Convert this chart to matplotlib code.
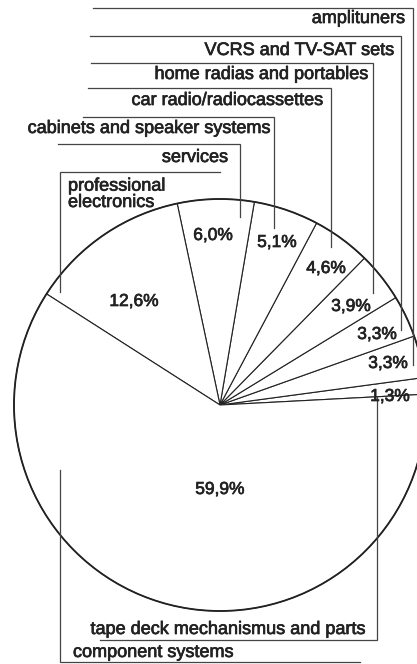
import matplotlib
matplotlib.use("Agg")
import matplotlib.pyplot as plt
import matplotlib.patheffects as pe
from matplotlib.patches import Circle

# shares in percent, counterclockwise from the right
categories = ["tape deck mechanismus and parts", "amplituners", "VCRS and TV-SAT sets",
              "home radias and portables", "car radio/radiocassettes",
              "cabinets and speaker systems", "services", "professional\nelectronics",
              "component systems"]
shares = [1.3, 3.3, 3.3, 3.9, 4.6, 5.1, 6.0, 12.6, 59.9]

# layout in pixel coords (y down)
cx, cy, rad = 220, 405, 206
pct_pos = [(390, 401), (388, 368), (377, 339), (351, 311), (326, 273),
           (277, 247), (213, 240), (134, 306), (220, 494)]
# label: (x, baseline y of last line, ha)
lab_pos = [(365, 634, "right"), (405, 23, "right"), (393, 55, "right"),
           (368, 79, "right"), (323, 105, "right"), (270, 133, "right"),
           (228, 162, "right"), (68, 207, "left"), (73, 657, "left")]
# leader: horizontal line y, start x, corner x, end y of vertical
leaders = [(640, 100, 377, 397), (8, 93, 413, 365), (36, 90, 401, 330),
           (63, 91, 373, 293), (88, 88, 331, 247), (117, 83, 274, 228),
           (144, 58, 240, 217), (172, 220, 60, 292), (662, 360, 60, 470)]

plt.rcParams['font.family'] = ['Liberation Sans', 'DejaVu Sans']
ink = "#222222"
bold = [pe.withStroke(linewidth=0.5, foreground=ink)]

fig = plt.figure(figsize=(4.17, 6.64), dpi=100)
ax = fig.add_axes([0, 0, 1, 1])

ax.pie(shares, center=(cx, cy), radius=rad, startangle=-3, counterclock=False,
       colors=["white"] * len(shares), frame=True,
       wedgeprops=dict(edgecolor=ink, linewidth=0.8))
ax.add_patch(Circle((cx, cy), rad, fill=False, edgecolor=ink, linewidth=1.3))

for v, (x, y) in zip(shares, pct_pos):
    ax.text(x, y, f"{v:.1f}".replace(".", ",") + "%", ha="center", va="baseline",
            fontsize=12.5, color=ink, path_effects=bold)

for name, (x, y, ha) in zip(categories, lab_pos):
    ax.text(x, y, name, ha=ha, va="baseline", fontsize=13, color=ink,
            linespacing=0.95, path_effects=bold)

for (hy, x0, x1, ey) in leaders:
    ax.plot([x0, x1, x1], [hy, hy, ey], color="#444444", linewidth=0.9,
            solid_joinstyle="miter")

ax.set_xlim(0, 417)
ax.set_ylim(664, 0)
ax.set_aspect("equal")
ax.axis("off")

fig.savefig("out.png", dpi=100, facecolor="white")
